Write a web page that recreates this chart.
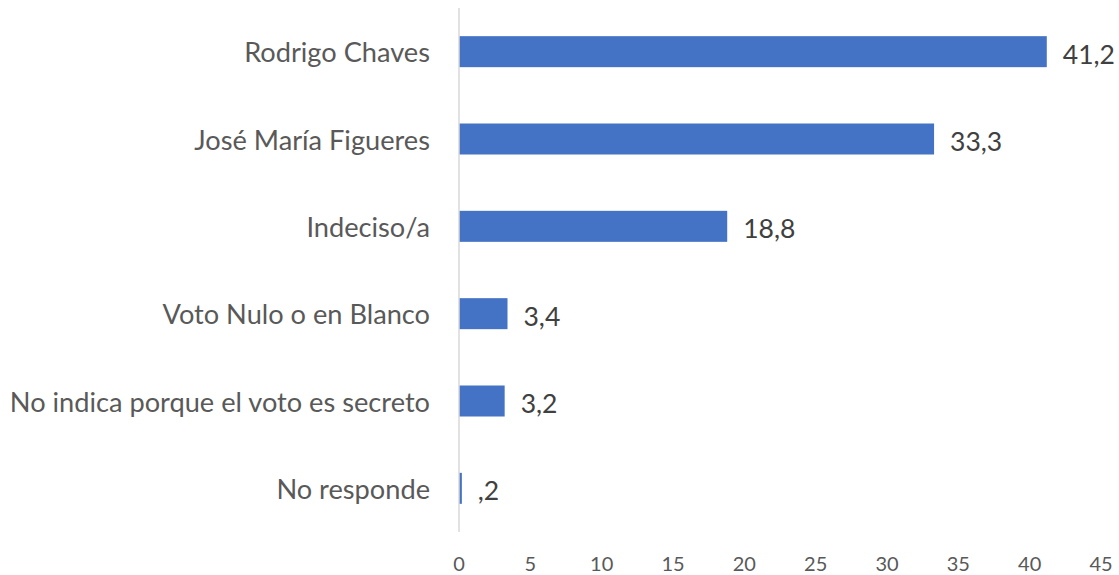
<!DOCTYPE html>
<html>
<head>
<meta charset="utf-8">
<script src="https://cdn.jsdelivr.net/npm/d3@7"></script>
<style>
  body { margin: 0; background: #fff; }
  text { font-family: Lato, "Open Sans", sans-serif; }
</style>
</head>
<body>
<div id="chart"></div>
<script>
// chart data
var categories = [
    'Rodrigo Chaves',
    'José María Figueres',
    'Indeciso/a',
    'Voto Nulo o en Blanco',
    'No indica porque el voto es secreto',
    'No responde'
];
var values = [41.2, 33.3, 18.8, 3.4, 3.2, 0.2];
var valueLabels = ['41,2', '33,3', '18,8', '3,4', '3,2', ',2'];
var ticks = [0, 5, 10, 15, 20, 25, 30, 35, 40, 45];

var width = 1119;
var height = 575;

var svg = d3
    .select('#chart')
    .append('svg')
    .attr('width', width)
    .attr('height', height);

// scales
var x = d3
    .scaleLinear()
    .domain([0, 45])
    .range([459, 1101]);

var y = d3
    .scaleBand()
    .domain(categories)
    .range([8, 532])
    .paddingInner(0.645)
    .paddingOuter(0.3225);

// bars
svg
    .append('g')
    .attr('class', 'bars')
    .selectAll('rect')
    .data(values)
    .enter()
    .append('rect')
    .attr('x', x(0))
    .attr('y', function(d, i) {
        return y(categories[i]);
    })
    .attr('width', function(d) {
        return x(d) - x(0);
    })
    .attr('height', y.bandwidth())
    .style('fill', '#4472C4');

// vertical axis line
svg
    .append('line')
    .attr('x1', x(0))
    .attr('x2', x(0))
    .attr('y1', 8)
    .attr('y2', 532)
    .style('stroke', '#D9D9D9')
    .style('stroke-width', 1.5);

// category labels
svg
    .append('g')
    .attr('class', 'cat-labels')
    .selectAll('text')
    .data(categories)
    .enter()
    .append('text')
    .attr('x', 430)
    .attr('y', function(d) {
        return y(d) + y.bandwidth() / 2;
    })
    .attr('text-anchor', 'end')
    .attr('dominant-baseline', 'central')
    .style('font-size', '27.2px')
    .style('fill', '#595959')
    .text(function(d) {
        return d;
    });

// value labels
svg
    .append('g')
    .attr('class', 'value-labels')
    .selectAll('text')
    .data(values)
    .enter()
    .append('text')
    .attr('x', function(d) {
        return x(d) + 16;
    })
    .attr('y', function(d, i) {
        return y(categories[i]) + y.bandwidth() / 2 + 2;
    })
    .attr('dominant-baseline', 'central')
    .style('font-size', '26.5px')
    .style('fill', '#404040')
    .text(function(d, i) {
        return valueLabels[i];
    });

// x axis tick labels
svg
    .append('g')
    .attr('class', 'x-ticks')
    .selectAll('text')
    .data(ticks)
    .enter()
    .append('text')
    .attr('x', function(d) {
        return x(d);
    })
    .attr('y', 563)
    .attr('text-anchor', 'middle')
    .attr('dominant-baseline', 'central')
    .style('font-size', '20px')
    .style('fill', '#595959')
    .text(function(d) {
        return d;
    });
</script>
</body>
</html>
